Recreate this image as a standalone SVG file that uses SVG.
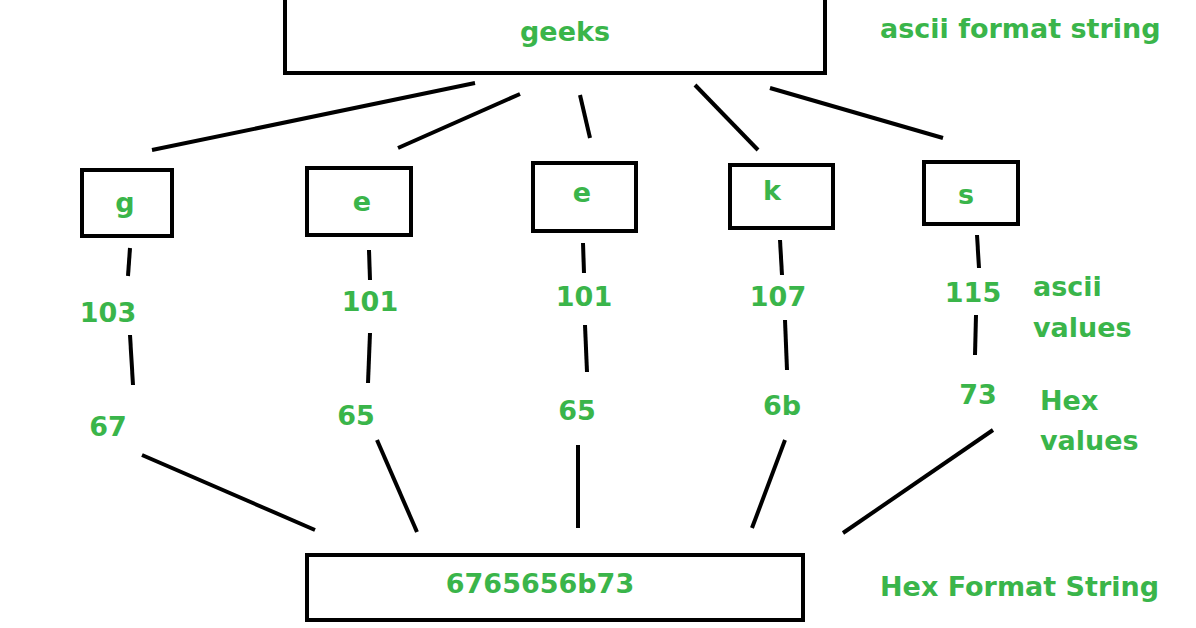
<svg xmlns="http://www.w3.org/2000/svg" width="1196" height="628" viewBox="0 0 1196 628">
<style>
.b{fill:#fff;stroke:#000;stroke-width:4}
.t{fill:#3ab54a;font-family:"DejaVu Sans",Verdana,sans-serif;font-weight:bold;font-size:27px}
.m{text-anchor:middle}
#conn line{stroke:#000;stroke-width:4}
</style>
<rect width="1196" height="628" fill="#fff"/>
<g id="conn">
<line x1="475" y1="83" x2="152" y2="150"/><line x1="520" y1="94" x2="398" y2="148"/>
<line x1="580" y1="95" x2="590" y2="138"/><line x1="695" y1="85" x2="758" y2="150"/>
<line x1="770" y1="88" x2="943" y2="138"/>
<line x1="130" y1="248" x2="128" y2="276"/><line x1="130" y1="335" x2="133" y2="385"/>
<line x1="369" y1="250" x2="370" y2="280"/><line x1="370" y1="333" x2="368" y2="383"/>
<line x1="583" y1="243" x2="584" y2="273"/><line x1="585" y1="325" x2="587" y2="372"/>
<line x1="780" y1="240" x2="782" y2="275"/><line x1="785" y1="320" x2="787" y2="370"/>
<line x1="977" y1="235" x2="979" y2="268"/><line x1="976" y1="315" x2="975" y2="355"/>
<line x1="142" y1="455" x2="315" y2="530"/><line x1="377" y1="440" x2="417" y2="532"/>
<line x1="578" y1="445" x2="578" y2="528"/><line x1="785" y1="440" x2="752" y2="528"/>
<line x1="993" y1="430" x2="843" y2="533"/>
</g>
<g id="top"><rect class="b" x="285" y="-5" width="540" height="78"/><text class="t m" x="565" y="41">geeks</text></g>
<g id="n_g"><rect class="b" x="82" y="170" width="90" height="66"/><text class="t m" x="125" y="212">g</text></g>
<g id="n_e1"><rect class="b" x="307" y="168" width="104" height="67"/><text class="t m" x="362" y="211">e</text></g>
<g id="n_e2"><rect class="b" x="533" y="163" width="103" height="68"/><text class="t m" x="582" y="202">e</text></g>
<g id="n_k"><rect class="b" x="730" y="165" width="103" height="63"/><text class="t m" x="772" y="200">k</text></g>
<g id="n_s"><rect class="b" x="924" y="162" width="94" height="62"/><text class="t m" x="966" y="204">s</text></g>
<g id="bottom"><rect class="b" x="307" y="555" width="496" height="65"/><text class="t m" x="540" y="593">6765656b73</text></g>
<g id="labels">
<text class="t m" x="108" y="322">103</text><text class="t m" x="108" y="436">67</text>
<text class="t m" x="370" y="311">101</text><text class="t m" x="356" y="425">65</text>
<text class="t m" x="584" y="306">101</text><text class="t m" x="577" y="420">65</text>
<text class="t m" x="778" y="306">107</text><text class="t m" x="782" y="415">6b</text>
<text class="t m" x="973" y="302">115</text><text class="t m" x="978" y="404">73</text>
<text class="t" x="880" y="38">ascii format string</text>
<text class="t" x="1033" y="296">ascii</text><text class="t" x="1033" y="337">values</text>
<text class="t" x="1040" y="410">Hex</text><text class="t" x="1040" y="450">values</text>
<text class="t" x="880" y="596">Hex Format String</text>
</g>
</svg>
